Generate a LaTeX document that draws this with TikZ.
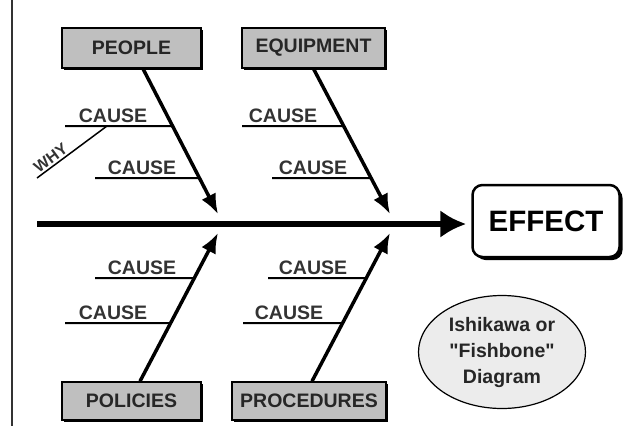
\documentclass[tikz,border=0pt]{standalone}
\usepackage{fontspec}
\setmainfont{Liberation Sans}[Ligatures=TeXOff]
\usetikzlibrary{arrows.meta,shapes.geometric,shadows}

\begin{document}
\begin{tikzpicture}[x=1pt, y=-1pt,
		category/.style={draw, line width=1.5pt, fill=gray!50, minimum height=40pt, inner sep=0pt, font=\fontsize{19.5}{19.5}\selectfont\bfseries, text=black!85, general shadow={fill=black, shadow xshift=2pt, shadow yshift=-2pt}},
		cause/.style={anchor=south, inner sep=3pt, font=\fontsize{19.5}{19.5}\selectfont\bfseries, text=black!80},
		bone/.style={line width=2pt},
		spine/.style={line width=3.5pt, -{Latex[length=20pt, width=16pt]}}]
	\useasboundingbox (0,0) rectangle (626,426);
	\draw[line width=1.5pt, black!80] (12,0) -- (12,426);

	% head of the fish
	\node[draw, fill=white, line width=2.5pt, rounded corners=10pt, minimum width=147pt, minimum height=72pt, font=\fontsize{29.5}{29.5}\selectfont\bfseries, general shadow={fill=black, shadow xshift=3pt, shadow yshift=-3pt}] (effect) at (546,221) {EFFECT};
	\coordinate (tail) at (37,224);
	\draw[line width=6pt, -{Latex[length=26pt, width=28pt]}] (tail) -- ([xshift=-5pt]effect.west |- tail);

	% upper bones
	\node[category, minimum width=139pt] (people) at (131.5,48) {PEOPLE};
	\coordinate (peoplestart) at ([xshift=11.5pt]people.south);
	\coordinate (peopleend) at (218,214);
	\draw[spine] (peoplestart) -- (peopleend);
	\node[cause] (peoplecause1) at (113,126) {CAUSE};
	\coordinate (peoplebone1) at (65,126);
	\draw[bone] (peoplebone1) -- (intersection of peoplebone1--peoplecause1.south and peoplestart--peopleend);
	\node[cause] (peoplecause2) at (142,178) {CAUSE};
	\coordinate (peoplebone2) at (95,178);
	\draw[bone] (peoplebone2) -- (intersection of peoplebone2--peoplecause2.south and peoplestart--peopleend);
	\coordinate (why) at (37,178);
	\coordinate (whyend) at (107,126);
	\draw[line width=1.5pt] (why) -- node[sloped, above, pos=0.26, inner sep=1.5pt, font=\fontsize{16}{16}\selectfont\bfseries, text=black!80] {WHY} (whyend);

	\node[category, minimum width=143pt] (equipment) at (313.5,48) {EQUIPMENT};
	\coordinate (equipmentstart) at (equipment.south);
	\coordinate (equipmentend) at (390,214);
	\draw[spine] (equipmentstart) -- (equipmentend);
	\node[cause] (equipmentcause1) at (283,126) {CAUSE};
	\coordinate (equipmentbone1) at (242,126);
	\draw[bone] (equipmentbone1) -- (intersection of equipmentbone1--equipmentcause1.south and equipmentstart--equipmentend);
	\node[cause] (equipmentcause2) at (313,178) {CAUSE};
	\coordinate (equipmentbone2) at (272,178);
	\draw[bone] (equipmentbone2) -- (intersection of equipmentbone2--equipmentcause2.south and equipmentstart--equipmentend);

	% lower bones
	\node[category, minimum width=139pt, minimum height=38pt] (policies) at (131.5,401) {POLICIES};
	\coordinate (policiesstart) at ([xshift=8.5pt]policies.north);
	\coordinate (policiesend) at (218,233);
	\draw[spine] (policiesstart) -- (policiesend);
	\node[cause] (policiescause1) at (142,278) {CAUSE};
	\coordinate (policiesbone1) at (95,278);
	\draw[bone] (policiesbone1) -- (intersection of policiesbone1--policiescause1.south and policiesstart--policiesend);
	\node[cause] (policiescause2) at (113,323) {CAUSE};
	\coordinate (policiesbone2) at (65,323);
	\draw[bone] (policiesbone2) -- (intersection of policiesbone2--policiescause2.south and policiesstart--policiesend);

	\node[category, minimum width=154pt, minimum height=38pt] (procedures) at (309,401) {PROCEDURES};
	\coordinate (proceduresstart) at ([xshift=3pt]procedures.north);
	\coordinate (proceduresend) at (390,233);
	\draw[spine] (proceduresstart) -- (proceduresend);
	\node[cause] (procedurescause1) at (313,278) {CAUSE};
	\coordinate (proceduresbone1) at (268,278);
	\draw[bone] (proceduresbone1) -- (intersection of proceduresbone1--procedurescause1.south and proceduresstart--proceduresend);
	\node[cause] (procedurescause2) at (289,323) {CAUSE};
	\coordinate (proceduresbone2) at (243,323);
	\draw[bone] (proceduresbone2) -- (intersection of proceduresbone2--procedurescause2.south and proceduresstart--proceduresend);

	\node[ellipse, draw, line width=1.2pt, fill=gray!15, minimum width=167pt, minimum height=113pt, inner sep=0pt, align=center, font=\fontsize{19.5}{26}\selectfont\bfseries, text=black!85] (title) at (502,352) {Ishikawa or\\"Fishbone"\\Diagram};
\end{tikzpicture}
\end{document}
